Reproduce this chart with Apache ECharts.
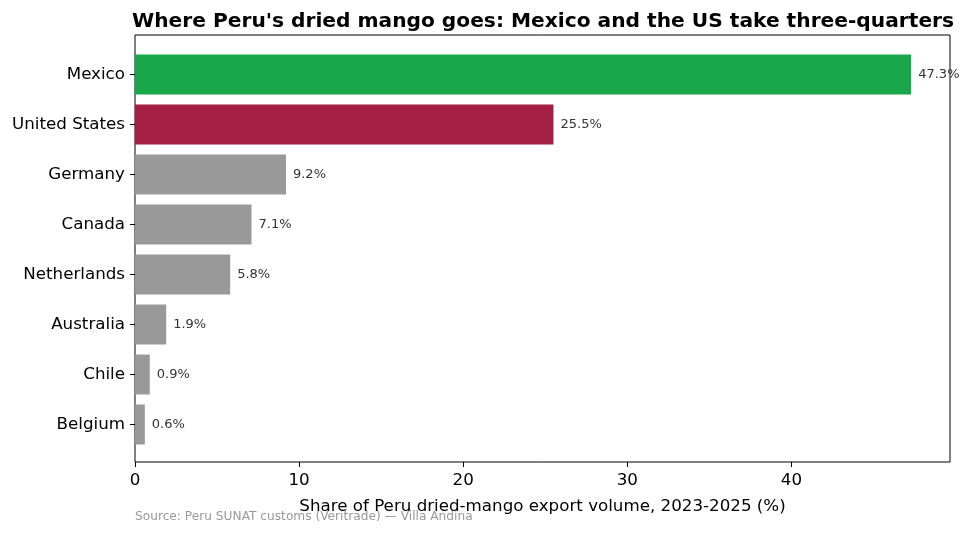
<!DOCTYPE html>
<html>
<head>
<meta charset="utf-8" />
<title>Peru dried mango exports</title>
<script src="https://cdn.jsdelivr.net/npm/echarts@6/dist/echarts.min.js"></script>
<style>
  html, body { margin: 0; padding: 0; background: #fff; }
  #main { width: 973px; height: 536px; }
</style>
</head>
<body>
<div id="main"></div>
<script>
// destinations, top to bottom
var countries = ['Mexico', 'United States', 'Germany', 'Canada', 'Netherlands', 'Australia', 'Chile', 'Belgium'];
var shares = [47.3, 25.5, 9.2, 7.1, 5.8, 1.9, 0.9, 0.6];
var barColors = ['#18a84a', '#a51f45', '#999999', '#999999', '#999999', '#999999', '#999999', '#999999'];
var xTicks = [0, 10, 20, 30, 40];
var xMax = 49.665;

var font = 'DejaVu Sans';
var chart = echarts.init(document.getElementById('main'));

var option = {
  animation: false,
  textStyle: { fontFamily: font },
  title: {
    text: "Where Peru's dried mango goes: Mexico and the US take three-quarters",
    left: 538, top: 7, textAlign: 'center',
    textStyle: { fontFamily: font, fontSize: 20.2, fontWeight: 'bold', color: '#000' }
  },
  graphic: [{
    type: 'text', left: 135, top: 511,
    style: { text: 'Source: Peru SUNAT customs (Veritrade) \u2014 Villa Andina', fill: '#999', font: '12.2px "DejaVu Sans"' }
  }],
  grid: [
    // frame
    { left: 135, right: 23, top: 35, bottom: 74, show: true, borderColor: '#000', borderWidth: 1, backgroundColor: 'transparent' },
    // bars (8 bands of 50px)
    { left: 135, right: 23, top: 49.5, bottom: 86.5 }
  ],
  xAxis: [{
    gridIndex: 0, type: 'value', min: 0, max: xMax,
    axisLine: { show: false },
    axisTick: { show: true, length: 5, customValues: xTicks, lineStyle: { color: '#000' } },
    splitLine: { show: false },
    axisLabel: { fontSize: 16.7, color: '#000', margin: 10, customValues: xTicks },
    name: 'Share of Peru dried-mango export volume, 2023-2025 (%)',
    nameLocation: 'middle', nameGap: 36,
    nameTextStyle: { fontSize: 16.7, color: '#000' }
  }, {
    gridIndex: 1, type: 'value', min: 0, max: xMax, show: false
  }],
  yAxis: [{
    gridIndex: 0, type: 'value', show: false
  }, {
    gridIndex: 1, type: 'category', data: countries, inverse: true,
    axisLine: { show: false },
    axisTick: { show: true, alignWithLabel: true, length: 5, lineStyle: { color: '#000' } },
    axisLabel: { fontSize: 16.7, color: '#000', margin: 10 }
  }],
  series: [{
    type: 'bar', xAxisIndex: 1, yAxisIndex: 1,
    barWidth: 40,
    data: shares.map(function (v, i) {
      return { value: v, itemStyle: { color: barColors[i] } };
    }),
    label: {
      show: true, position: 'right', distance: 7,
      fontSize: 13, color: '#333',
      formatter: function (p) { return p.value.toFixed(1) + '%'; }
    }
  }]
};

chart.setOption(option);
</script>
</body>
</html>
